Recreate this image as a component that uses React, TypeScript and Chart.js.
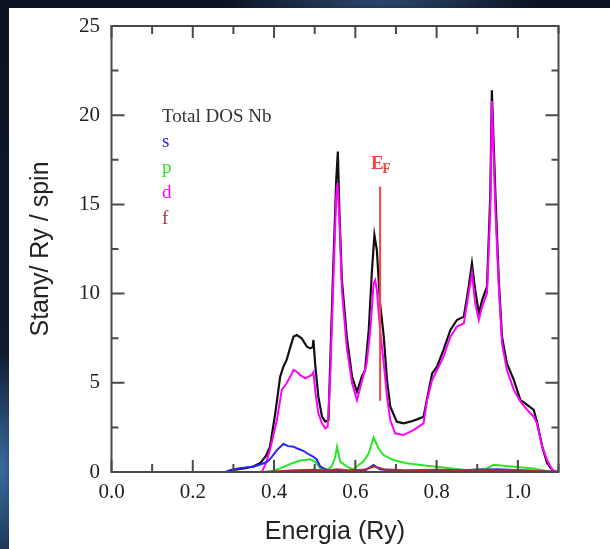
import React, { useEffect, useRef } from "react";
import { Chart, registerables } from "chart.js";

Chart.register(...registerables);

// ---- axis ticks ----
const xTickLabels = [0, 0.2, 0.4, 0.6, 0.8, 1.0];
const xTickMarks = [0, 0.1, 0.2, 0.3, 0.4, 0.5, 0.6, 0.7, 0.8, 0.9, 1.0, 1.1];
const yTickLabels = [0, 5, 10, 15, 20, 25];
const yTickMarks = [0, 2.5, 5, 7.5, 10, 12.5, 15, 17.5, 20, 22.5, 25];

// ---- legend text ----
const legendLabels = ["Total DOS Nb", "s", "p", "d", "f"];

// ---- Total DOS ----
const totalE = [0.10, 0.28, 0.30, 0.33, 0.35, 0.366, 0.38, 0.39, 0.403, 0.415, 0.423, 0.431, 0.44, 0.448, 0.456, 0.468, 0.481, 0.489, 0.495, 0.497, 0.501, 0.509, 0.518, 0.526, 0.534, 0.538, 0.546, 0.553, 0.557, 0.561, 0.567, 0.579, 0.592, 0.604, 0.616, 0.624, 0.633, 0.641, 0.647, 0.653, 0.661, 0.670, 0.678, 0.686, 0.702, 0.719, 0.735, 0.752, 0.768, 0.776, 0.789, 0.801, 0.817, 0.834, 0.850, 0.867, 0.879, 0.887, 0.895, 0.904, 0.912, 0.924, 0.932, 0.936, 0.945, 0.953, 0.961, 0.973, 0.990, 1.006, 1.023, 1.039, 1.047, 1.060, 1.072, 1.088, 1.10];
const totalV = [0, 0, 0.12, 0.22, 0.32, 0.5, 0.9, 1.42, 3.29, 5.34, 5.9, 6.28, 7.0, 7.59, 7.68, 7.49, 7.02, 6.93, 7.0, 7.4, 6.09, 4.22, 3.1, 2.82, 2.91, 6.0, 11.7, 16.37, 17.96, 14.5, 10.76, 7.59, 5.34, 4.5, 5.34, 5.72, 7.96, 11.32, 13.28, 12.44, 9.45, 7.59, 5.16, 3.66, 2.82, 2.73, 2.82, 2.95, 3.1, 4.04, 5.53, 5.9, 6.84, 7.96, 8.52, 8.71, 10.39, 11.7, 10.2, 8.89, 9.64, 10.39, 15.43, 21.4, 15.43, 10.76, 7.59, 6.09, 5.16, 4.04, 3.76, 3.48, 2.82, 1.42, 0.49, 0.02, 0];

// ---- s ----
const sE = [0.284, 0.30, 0.33, 0.349, 0.370, 0.385, 0.395, 0.407, 0.423, 0.435, 0.448, 0.456, 0.472, 0.481, 0.497, 0.505, 0.514, 0.522, 0.535, 0.56, 0.60, 0.625, 0.645, 0.66, 0.69, 0.75, 0.85, 0.95, 1.0, 1.05, 1.1];
const sV = [0.05, 0.15, 0.25, 0.3, 0.45, 0.6, 0.86, 1.23, 1.57, 1.45, 1.42, 1.33, 1.19, 1.05, 0.85, 0.7, 0.3, 0.2, 0.08, 0.05, 0.05, 0.1, 0.39, 0.15, 0.08, 0.05, 0.1, 0.15, 0.1, 0.05, 0];

// ---- p ----
const pE = [0.37, 0.395, 0.415, 0.44, 0.464, 0.489, 0.501, 0.514, 0.530, 0.542, 0.55, 0.555, 0.563, 0.579, 0.596, 0.608, 0.620, 0.633, 0.645, 0.657, 0.669, 0.694, 0.727, 0.776, 0.801, 0.875, 0.924, 0.94, 0.99, 1.039, 1.08, 1.1];
const pV = [0, 0.05, 0.2, 0.45, 0.64, 0.71, 0.58, 0.21, 0.11, 0.3, 0.8, 1.42, 0.58, 0.3, 0.15, 0.39, 0.58, 1.05, 1.94, 1.33, 0.95, 0.67, 0.49, 0.35, 0.3, 0.1, 0.2, 0.4, 0.3, 0.2, 0.02, 0];

// ---- d ----
const dE = [0.10, 0.37, 0.38, 0.39, 0.407, 0.419, 0.431, 0.444, 0.448, 0.456, 0.464, 0.477, 0.485, 0.493, 0.497, 0.501, 0.509, 0.518, 0.526, 0.532, 0.538, 0.546, 0.553, 0.556, 0.561, 0.567, 0.579, 0.592, 0.604, 0.616, 0.628, 0.637, 0.645, 0.649, 0.653, 0.661, 0.670, 0.678, 0.686, 0.698, 0.719, 0.743, 0.768, 0.776, 0.789, 0.801, 0.817, 0.834, 0.850, 0.867, 0.879, 0.887, 0.895, 0.904, 0.912, 0.924, 0.932, 0.936, 0.945, 0.953, 0.961, 0.973, 0.990, 1.006, 1.023, 1.039, 1.047, 1.060, 1.072, 1.085, 1.10];
const dV = [0, 0, 0.5, 1.23, 2.91, 4.6, 4.97, 5.53, 5.72, 5.62, 5.44, 5.25, 5.34, 5.44, 5.6, 4.6, 3.29, 2.73, 2.45, 2.54, 5.16, 10.76, 15.43, 16.2, 14.06, 10.2, 6.97, 4.97, 4.02, 5.07, 6.09, 7.96, 10.57, 10.76, 10.2, 7.96, 6.09, 4.22, 2.91, 2.17, 2.07, 2.35, 2.73, 3.96, 5.16, 5.72, 6.46, 7.59, 8.15, 8.33, 10.02, 11.14, 9.45, 8.52, 9.27, 10.02, 14.5, 20.8, 14.5, 10.39, 7.21, 5.72, 4.6, 3.96, 3.48, 3.1, 2.73, 1.42, 0.67, 0.11, 0];

// ---- f ----
const fE = [0.10, 0.38, 0.42, 0.45, 0.50, 0.53, 0.555, 0.58, 0.62, 0.647, 0.67, 0.72, 0.80, 0.90, 1.00, 1.05, 1.10];
const fV = [0, 0, 0.05, 0.1, 0.12, 0.08, 0.15, 0.1, 0.12, 0.3, 0.15, 0.1, 0.12, 0.1, 0.1, 0.05, 0];

// ---- Fermi level ----
const efE = [0.661, 0.661];
const efV = [4, 16];

const COLORS = {
  total: "#111111",
  s: "#2424ff",
  p: "#2ae62a",
  d: "#ff00ff",
  f: "#b03030",
  ef: "#f04545",
};
const legendColors = [COLORS.total, COLORS.s, COLORS.p, COLORS.d, COLORS.f];

const pts = (xs: number[], ys: number[]) => xs.map((x, i) => ({ x, y: ys[i] }));

const frameAndText = {
  id: "frameAndText",
  afterDatasetsDraw(chart: any) {
    const { ctx, chartArea, scales } = chart;
    const { left, right, top, bottom } = chartArea;
    const x = scales.x;
    const y = scales.y;
    ctx.save();
    ctx.strokeStyle = "#4a4a4a";
    ctx.lineWidth = 2;
    ctx.beginPath();
    for (const v of xTickMarks) {
      const px = x.getPixelForValue(v);
      const major = Math.abs(v * 10 - Math.round(v * 5) * 2) < 1e-6;
      const len = major ? 12 : 8;
      ctx.moveTo(px, bottom);
      ctx.lineTo(px, bottom - len);
      ctx.moveTo(px, top);
      ctx.lineTo(px, top + len);
    }
    for (const v of yTickMarks) {
      const py = y.getPixelForValue(v);
      const major = v % 5 === 0;
      const len = major ? 13 : 7;
      ctx.moveTo(left, py);
      ctx.lineTo(left + len, py);
      ctx.moveTo(right, py);
      ctx.lineTo(right - len, py);
    }
    ctx.stroke();
    ctx.strokeRect(left, top, right - left, bottom - top);

    // legend labels
    ctx.textAlign = "left";
    ctx.textBaseline = "alphabetic";
    ctx.font = "19px 'Liberation Serif', serif";
    legendLabels.forEach((t, i) => {
      ctx.fillStyle = i === 0 ? "#333333" : legendColors[i];
      ctx.fillText(t, left + 50.5, top + 95.5 + 25.5 * i);
    });

    // E_F label
    const ex = x.getPixelForValue(efE[0]);
    const ey = y.getPixelForValue(efV[1]);
    ctx.fillStyle = COLORS.ef;
    ctx.font = "bold 19px 'Liberation Serif', serif";
    ctx.fillText("E", ex - 9, ey - 17.4);
    const w = ctx.measureText("E").width;
    ctx.font = "bold 14px 'Liberation Serif', serif";
    ctx.fillText("F", ex - 9 + w - 1.5, ey - 13.7);
    ctx.restore();
  },
};

export default function App() {
  const ref = useRef<HTMLCanvasElement | null>(null);
  useEffect(() => {
    if (!ref.current) return;
    const line = (data: any, color: string, order: number, width = 2) => ({
      data,
      borderColor: color,
      backgroundColor: color,
      borderWidth: width,
      pointRadius: 0,
      tension: 0,
      fill: false,
      order,
    });
    const chart = new Chart(ref.current, {
      type: "line",
      data: {
        datasets: [
          line(pts(efE, efV), COLORS.ef, 0, 2),
          line(pts(fE, fV), COLORS.f, 1),
          line(pts(sE, sV), COLORS.s, 2),
          line(pts(pE, pV), COLORS.p, 3),
          line(pts(dE, dV), COLORS.d, 4),
          line(pts(totalE, totalV), COLORS.total, 5, 2.2),
        ] as any,
      },
      options: {
        responsive: false,
        animation: false,
        events: [],
        layout: { padding: { left: 0, top: 18, right: 51.5, bottom: 0 } },
        plugins: { legend: { display: false }, tooltip: { enabled: false } },
        scales: {
          x: {
            type: "linear",
            min: 0,
            max: 1.1,
            grid: { display: false, drawTicks: false },
            border: { display: false },
            afterBuildTicks: (s: any) => {
              s.ticks = xTickLabels.map((v) => ({ value: v }));
            },
            afterFit: (s: any) => {
              s.height = 77;
              s.paddingLeft = 0;
              s.paddingRight = 0;
            },
            ticks: {
              padding: 7.5,
              color: "#222",
              maxRotation: 0,
              font: { family: "'Liberation Serif', serif", size: 21 },
              callback: (v: any) => Number(v).toFixed(1),
            },
            title: {
              display: true,
              text: "Energia (Ry)",
              color: "#222",
              font: { family: "'Liberation Sans', sans-serif", size: 25 },
              padding: { top: 0, bottom: 1.5 },
            },
          },
          y: {
            type: "linear",
            min: 0,
            max: 25,
            grid: { display: false, drawTicks: false },
            border: { display: false },
            afterBuildTicks: (s: any) => {
              s.ticks = yTickLabels.map((v) => ({ value: v }));
            },
            afterFit: (s: any) => {
              s.width = 102.5;
              s.paddingTop = 0;
              s.paddingBottom = 0;
            },
            ticks: {
              padding: 11.5,
              color: "#222",
              font: { family: "'Liberation Serif', serif", size: 21 },
              callback: (v: any) => String(v),
            },
            title: {
              display: true,
              text: "Stany/ Ry / spin",
              color: "#222",
              font: { family: "'Liberation Sans', sans-serif", size: 25 },
              padding: { top: 17, bottom: 0 },
            },
          },
        },
      },
      plugins: [frameAndText],
    } as any);
    return () => chart.destroy();
  }, []);

  return (
    <div
      style={{
        position: "fixed",
        left: 0,
        top: 0,
        width: 610,
        height: 549,
        overflow: "hidden",
        background:
          "radial-gradient(ellipse 30px 120px at 2px 470px, #3a6aa0 0%, rgba(40,80,130,0) 100%), radial-gradient(ellipse 160px 20px at 380px 2px, #2b4870 0%, rgba(40,70,110,0) 100%), linear-gradient(180deg, #0b1220 0%, #0e1a2e 60%, #10223a 100%)",
      }}
    >
      <canvas
        ref={ref}
        width={601}
        height={541}
        style={{ position: "absolute", left: 9, top: 8, width: 601, height: 541, background: "#ffffff" }}
      />
    </div>
  );
}
